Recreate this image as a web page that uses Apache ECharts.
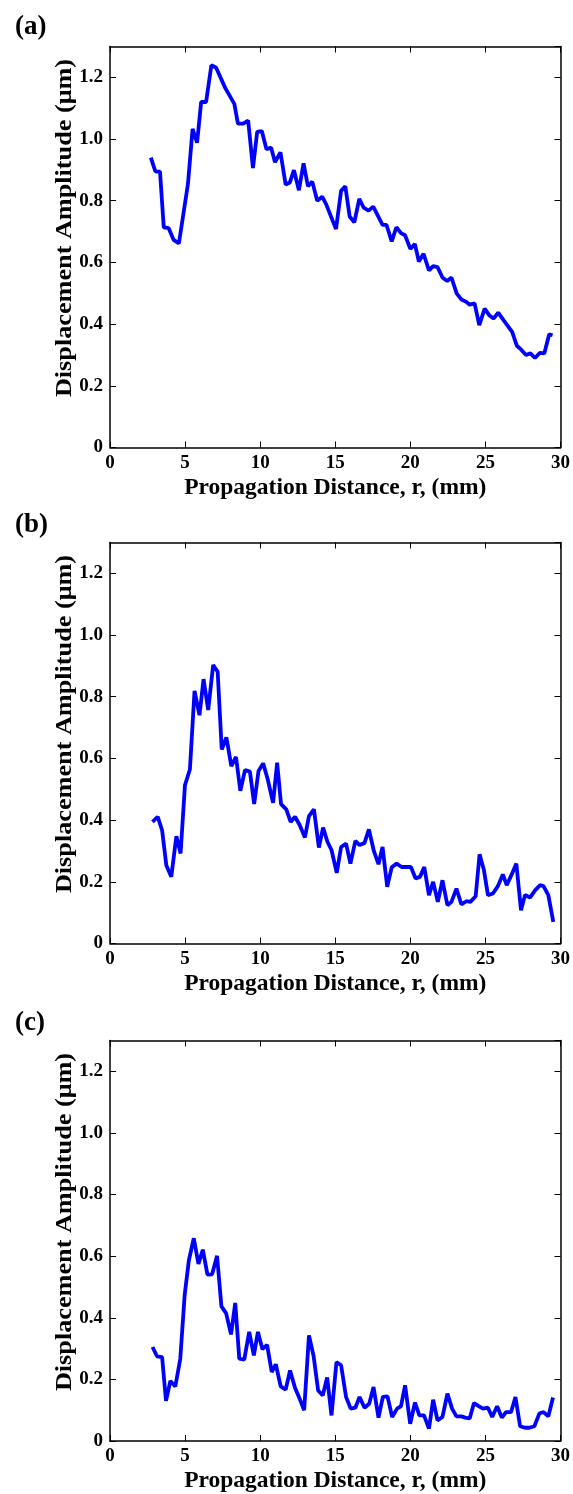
<!DOCTYPE html>
<html>
<head>
<meta charset="utf-8">
<script src="https://cdn.jsdelivr.net/npm/echarts@6/dist/echarts.min.js"></script>
<style>
  html, body { margin: 0; padding: 0; background: #fff; }
  #chart { width: 573px; height: 1494px; }
</style>
</head>
<body>
<div id="chart"></div>
<script>
// Propagation distance r (mm) and displacement amplitude (µm) for each panel
const distA = [2.72,3.02,3.33,3.58,3.91,4.24,4.59,5.19,5.5,5.8,6.07,6.4,6.75,7.06,7.68,8.28,8.52,8.87,9.2,9.52,9.8,10.11,10.42,10.73,10.99,11.35,11.7,11.97,12.25,12.58,12.89,13.18,13.47,13.8,14.13,14.39,15.05,15.39,15.67,15.96,16.27,16.6,16.89,17.22,17.53,18.15,18.41,18.76,19.07,19.38,19.65,20.0,20.3,20.57,20.88,21.24,21.52,21.81,22.14,22.45,22.74,23.09,23.4,23.73,23.95,24.28,24.59,24.95,25.25,25.54,25.85,26.23,26.78,27.09,27.37,27.7,28.0,28.3,28.63,28.92,29.25,29.47];
const ampA = [0.94,0.895,0.894,0.714,0.711,0.673,0.662,0.854,1.033,0.988,1.12,1.12,1.239,1.232,1.165,1.114,1.05,1.05,1.06,0.906,1.023,1.026,0.967,0.972,0.925,0.957,0.852,0.859,0.899,0.834,0.921,0.847,0.862,0.8,0.813,0.789,0.708,0.832,0.847,0.749,0.73,0.806,0.778,0.768,0.781,0.722,0.722,0.668,0.714,0.695,0.688,0.644,0.66,0.603,0.628,0.574,0.588,0.585,0.551,0.54,0.551,0.499,0.48,0.472,0.463,0.467,0.397,0.45,0.429,0.418,0.437,0.411,0.375,0.33,0.318,0.3,0.305,0.29,0.307,0.305,0.367,0.364];

const distB = [2.83,3.18,3.47,3.75,4.08,4.42,4.7,4.99,5.32,5.63,5.96,6.23,6.54,6.87,7.17,7.44,7.75,8.08,8.39,8.68,8.99,9.32,9.6,9.89,10.2,10.49,10.86,11.13,11.39,11.74,12.03,12.32,12.63,12.98,13.25,13.58,13.91,14.19,14.48,14.75,15.1,15.39,15.72,16.01,16.34,16.62,16.95,17.24,17.57,17.88,18.15,18.46,18.76,19.09,19.42,20.04,20.35,20.64,20.93,21.24,21.52,21.83,22.14,22.47,22.74,23.07,23.4,23.73,24.0,24.35,24.61,24.9,25.17,25.5,25.83,26.16,26.42,26.75,27.06,27.37,27.64,27.97,28.32,28.63,28.87,29.19,29.52];
const ampB = [0.394,0.411,0.367,0.254,0.216,0.348,0.292,0.513,0.564,0.819,0.74,0.857,0.757,0.903,0.881,0.629,0.668,0.575,0.605,0.495,0.562,0.557,0.452,0.559,0.584,0.535,0.456,0.586,0.452,0.435,0.394,0.411,0.384,0.344,0.413,0.435,0.311,0.376,0.33,0.303,0.229,0.313,0.324,0.259,0.333,0.319,0.326,0.37,0.3,0.257,0.313,0.184,0.247,0.259,0.248,0.248,0.211,0.216,0.248,0.157,0.2,0.135,0.205,0.124,0.135,0.178,0.127,0.137,0.135,0.153,0.289,0.238,0.157,0.162,0.186,0.224,0.189,0.224,0.259,0.108,0.157,0.149,0.173,0.189,0.186,0.157,0.07];

const distC = [2.83,3.13,3.47,3.73,4.02,4.35,4.68,4.97,5.25,5.58,5.89,6.18,6.49,6.8,7.13,7.42,7.73,8.06,8.34,8.61,8.94,9.27,9.58,9.85,10.15,10.46,10.77,11.04,11.37,11.7,11.99,12.32,12.63,12.93,13.25,13.56,13.86,14.17,14.46,14.75,15.08,15.39,15.72,16.03,16.34,16.62,16.95,17.26,17.55,17.88,18.17,18.48,18.79,19.12,19.38,19.65,19.99,20.31,20.6,20.91,21.24,21.52,21.81,22.14,22.47,22.78,23.07,23.4,23.66,23.95,24.24,24.55,24.83,25.17,25.45,25.78,26.09,26.38,26.71,27.0,27.31,27.64,27.93,28.26,28.59,28.87,29.19,29.5];
const ampC = [0.305,0.275,0.272,0.13,0.195,0.177,0.267,0.473,0.586,0.658,0.575,0.621,0.54,0.541,0.601,0.437,0.415,0.346,0.448,0.267,0.264,0.354,0.278,0.354,0.298,0.312,0.224,0.249,0.177,0.167,0.229,0.173,0.137,0.1,0.343,0.275,0.164,0.148,0.206,0.083,0.256,0.246,0.143,0.105,0.108,0.143,0.108,0.121,0.175,0.076,0.143,0.145,0.078,0.105,0.113,0.181,0.056,0.125,0.083,0.083,0.04,0.134,0.067,0.078,0.154,0.105,0.08,0.08,0.076,0.073,0.123,0.113,0.105,0.108,0.078,0.113,0.076,0.094,0.094,0.143,0.048,0.043,0.043,0.048,0.089,0.094,0.08,0.141];

const panelLabels = ['(a)', '(b)', '(c)'];
const xTitle = 'Propagation Distance, r, (mm)';
const yTitle = 'Displacement Amplitude (\u03bcm)';

const panels = [
  { dist: distA, amp: ampA },
  { dist: distB, amp: ampB },
  { dist: distC, amp: ampC }
];

const FONT = '"Liberation Serif", "Times New Roman", serif';
const gridTops = [46.5, 542.5, 1040.5];
const gridHeight = 401;
const labelTops = [9, 507, 1005];
// vertical title centres (sit a little above the middle of each plot box)
const yTitleCentres = [228, 724, 1222];

const frameLine = { show: true, onZero: false, lineStyle: { color: '#000', width: 1.5 } };
const innerTick = { show: true, inside: true, length: 6, lineStyle: { color: '#000', width: 1 } };

const option = {
  backgroundColor: '#fff',
  animation: false,
  title: [],
  grid: [],
  xAxis: [],
  yAxis: [],
  series: [],
  graphic: []
};

panels.forEach((p, i) => {
  option.title.push({
    text: panelLabels[i],
    left: 10,
    top: labelTops[i],
    textStyle: { fontFamily: FONT, fontWeight: 'bold', fontSize: 27, color: '#000' }
  });
  option.grid.push({ left: 110, right: 10, top: gridTops[i], height: gridHeight, containLabel: false });

  // bottom and top x axes (the top one closes the frame and mirrors the ticks)
  option.xAxis.push({
    type: 'value', gridIndex: i, min: 0, max: 30, interval: 5, position: 'bottom',
    name: xTitle, nameLocation: 'middle', nameGap: 28,
    nameTextStyle: { fontFamily: FONT, fontWeight: 'bold', fontSize: 23.5, color: '#000' },
    axisLine: frameLine, axisTick: innerTick, splitLine: { show: false },
    axisLabel: { fontFamily: FONT, fontWeight: 'bold', fontSize: 19, color: '#000', margin: 6 }
  });
  option.xAxis.push({
    type: 'value', gridIndex: i, min: 0, max: 30, interval: 5, position: 'top',
    axisLine: frameLine, axisTick: innerTick, splitLine: { show: false },
    axisLabel: { show: false }
  });

  // left and right y axes
  option.yAxis.push({
    type: 'value', gridIndex: i, min: 0, max: 1.3, interval: 0.2, position: 'left',
    axisLine: frameLine, axisTick: innerTick, splitLine: { show: false },
    axisLabel: {
      fontFamily: FONT, fontWeight: 'bold', fontSize: 19, color: '#000', margin: 7,
      showMaxLabel: false,
      formatter: v => (v > 1.25 ? '' : (v === 0 ? '0' : v.toFixed(1)))
    }
  });
  option.yAxis.push({
    type: 'value', gridIndex: i, min: 0, max: 1.3, interval: 0.2, position: 'right',
    axisLine: frameLine, axisTick: innerTick, splitLine: { show: false },
    axisLabel: { show: false }
  });

  // vertical axis title
  option.graphic.push({
    type: 'text',
    x: 65,
    y: yTitleCentres[i],
    rotation: Math.PI / 2,
    scaleX: 1.14,
    style: {
      text: yTitle,
      font: 'bold 23px ' + FONT,
      fill: '#000',
      textAlign: 'center',
      textVerticalAlign: 'middle'
    }
  });

  option.series.push({
    type: 'line',
    xAxisIndex: i * 2,
    yAxisIndex: i * 2,
    data: p.dist.map((d, k) => [d, p.amp[k]]),
    showSymbol: false,
    symbol: 'none',
    lineStyle: { color: '#0000ff', width: 3.8 },
    silent: true
  });
});

const chart = echarts.init(document.getElementById('chart'), null, { renderer: 'canvas' });
chart.setOption(option);
</script>
</body>
</html>
